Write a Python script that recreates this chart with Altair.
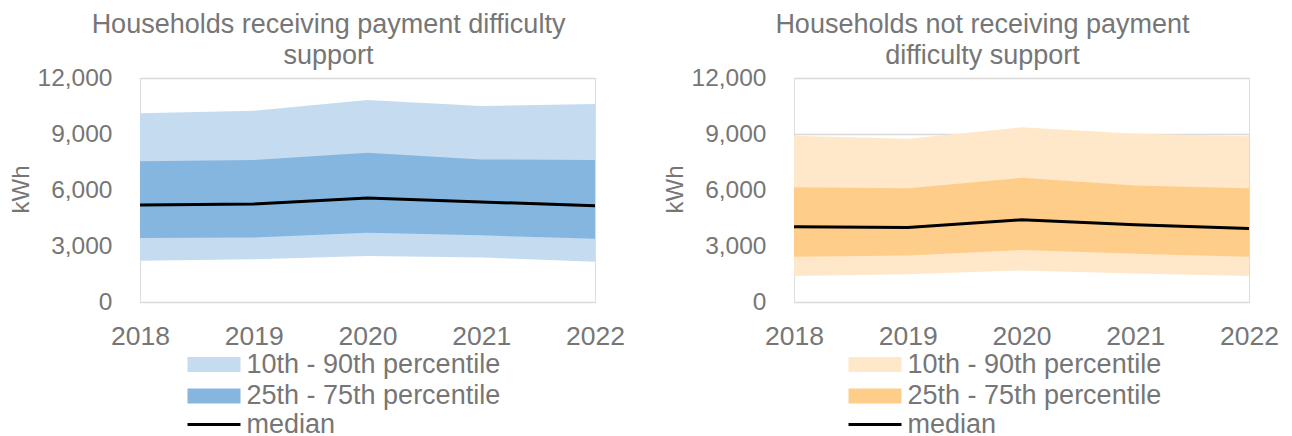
import altair as alt
import pandas as pd

years = ["2018", "2019", "2020", "2021", "2022"]

# Households receiving payment difficulty support (kWh)
recv_p10 = [2210, 2290, 2460, 2390, 2160]
recv_p25 = [3430, 3460, 3710, 3570, 3390]
recv_p50 = [5200, 5250, 5570, 5360, 5160]
recv_p75 = [7540, 7610, 8000, 7640, 7610]
recv_p90 = [10110, 10250, 10820, 10500, 10610]

# Households not receiving payment difficulty support (kWh)
not_p10 = [1390, 1480, 1690, 1530, 1390]
not_p25 = [2420, 2490, 2780, 2580, 2420]
not_p50 = [4030, 3990, 4400, 4140, 3940]
not_p75 = [6150, 6100, 6650, 6240, 6100]
not_p90 = [8910, 8740, 9360, 9020, 8880]

band_names = ["10th - 90th percentile", "25th - 75th percentile"]
median_name = "median"

title_recv = ["Households receiving payment difficulty", "support"]
title_not = ["Households not receiving payment", "difficulty support"]

blue_colors = ["#C5DCF0", "#85B6E0"]
orange_colors = ["#FFE8CA", "#FFCD8A"]

GRAY = "#767676"
FONT = "Liberation Sans"
RECT_PATH = "M-3.3125,-0.9375H3.3125V0.9375H-3.3125Z"
LINE_PATH = "M-3.3125,0H3.3125"


def panel(title_lines, p10, p25, p50, p75, p90, colors, legend_x):
    bands = pd.DataFrame({
        "year": years * 2,
        "band": [band_names[0]] * len(years) + [band_names[1]] * len(years),
        "lo": p10 + p25,
        "hi": p90 + p75,
    })
    med = pd.DataFrame({"year": years, "value": p50, "series": [median_name] * len(years)})

    x_enc = alt.X(
        "year:O",
        scale=alt.Scale(type="point", padding=0),
        axis=alt.Axis(title=None, labelAngle=0, domain=False, ticks=False, grid=False,
                      labelFontSize=26.5, labelColor=GRAY, labelFont=FONT, labelPadding=21),
    )
    y_scale = alt.Scale(domain=[0, 12000])
    y_axis = alt.Axis(
        title="kWh", values=[0, 3000, 6000, 9000, 12000], format=",.0f",
        domain=False, ticks=False, grid=True, gridColor="#D9D9D9", gridWidth=1.5,
        labelFontSize=24.5, labelColor=GRAY, labelFont=FONT, labelPadding=28,
        titleFontSize=24, titleColor=GRAY, titleFont=FONT, titleFontWeight="normal",
        titleAngle=-90, titleAlign="center", titleBaseline="middle", titleX=-119, titleY=111,
    )
    fill_enc = alt.Fill(
        "band:N",
        scale=alt.Scale(domain=band_names, range=colors),
        legend=alt.Legend(
            title=None, orient="none", legendX=legend_x, legendY=273, padding=0,
            symbolType=RECT_PATH, symbolSize=256, symbolStrokeWidth=0, symbolOpacity=1,
            symbolOffset=11.5, labelOffset=19, rowPadding=3.5,
            labelFontSize=27, labelColor=GRAY, labelFont=FONT, labelLimit=400,
        ),
    )
    outer = alt.Chart(bands).transform_filter(
        alt.datum.band == band_names[0]
    ).mark_area(opacity=1).encode(
        x=x_enc, y=alt.Y("lo:Q", scale=y_scale, axis=y_axis), y2="hi:Q", fill=fill_enc
    )
    inner = alt.Chart(bands).transform_filter(
        alt.datum.band == band_names[1]
    ).mark_area(opacity=1).encode(
        x=x_enc, y=alt.Y("lo:Q", scale=y_scale, axis=y_axis), y2="hi:Q", fill=fill_enc
    )
    line = alt.Chart(med).mark_line(strokeWidth=3).encode(
        x=x_enc,
        y=alt.Y("value:Q", scale=y_scale, axis=y_axis),
        stroke=alt.Stroke(
            "series:N",
            scale=alt.Scale(domain=[median_name], range=["#000000"]),
            legend=alt.Legend(
                title=None, orient="none", legendX=legend_x, legendY=333, padding=0,
                symbolType=LINE_PATH, symbolSize=256, symbolStrokeWidth=3,
                symbolOffset=11.5, labelOffset=19,
                labelFontSize=27, labelColor=GRAY, labelFont=FONT, labelLimit=400,
            ),
        ),
    )
    return alt.layer(outer, inner, line).properties(
        width=455, height=224,
        title=alt.TitleParams(
            text=title_lines, fontSize=27, color=GRAY, font=FONT, fontWeight="normal",
            anchor="middle", dx=-39, lineHeight=31, offset=-5,
        ),
    )


left = panel(title_recv, recv_p10, recv_p25, recv_p50, recv_p75, recv_p90, blue_colors, 49)
right = panel(title_not, not_p10, not_p25, not_p50, not_p75, not_p90, orange_colors, 56)

chart = alt.hconcat(left, right, spacing=199, bounds="flush").resolve_scale(
    fill="independent", stroke="independent"
).resolve_legend(
    fill="independent", stroke="independent"
).properties(
    padding={"left": 0, "top": 2, "right": 0, "bottom": 0}
).configure_view(stroke=None).configure(font=FONT, background="white")

chart.save("out.html", embed_options={"renderer": "svg", "actions": False})
